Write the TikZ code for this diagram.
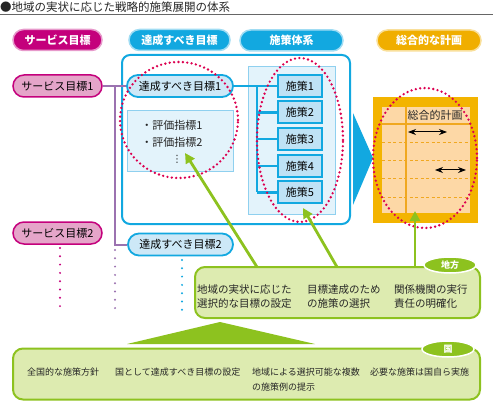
\documentclass[tikz,border=0pt]{standalone}
\usepackage{fontspec}
\setmainfont{Noto Sans CJK JP}
\newfontfamily\symfont{DejaVu Sans}
\usepackage{xcolor}
\usetikzlibrary{shapes,arrows.meta,positioning,fit}

\definecolor{srvmag}{HTML}{C4007C}
\definecolor{srvpink}{HTML}{E5A5C9}
\definecolor{sky}{HTML}{12A8E0}
\definecolor{goalfill}{HTML}{CDE8F7}
\definecolor{kpifill}{HTML}{E3F3FB}
\definecolor{kpiline}{HTML}{8FD0EF}
\definecolor{polfill}{HTML}{BFE2F5}
\definecolor{planhdr}{HTML}{F0AE00}
\definecolor{plangold}{HTML}{F3B400}
\definecolor{planpeach}{HTML}{FDD8A6}
\definecolor{planline}{HTML}{F0A820}
\definecolor{ringred}{HTML}{DC0050}
\definecolor{trunkpurple}{HTML}{9B72B0}
\definecolor{grass}{HTML}{8DC21F}
\definecolor{leaf}{HTML}{DDEBB0}

\begin{document}
\begin{tikzpicture}[
    x=1pt, y=-1pt,
    font=\fontsize{11}{12}\selectfont,
    hdr/.style={rounded corners=10.5pt, minimum height=21pt, inner sep=0pt, text=white,
        font=\bfseries\fontsize{11}{12}\selectfont, line width=1.5pt},
    srvbox/.style={rounded corners=11pt, minimum width=89pt, minimum height=22pt,
        inner sep=0pt, fill=srvpink, draw=srvmag, line width=1.5pt},
    goalbox/.style={rounded corners=11pt, minimum width=106pt, minimum height=22pt,
        inner sep=0pt, fill=goalfill, draw=sky, line width=1.8pt},
    polbox/.style={minimum width=44pt, minimum height=22pt, inner sep=0pt,
        fill=polfill, draw=sky, line width=2pt},
    ring/.style={ellipse, draw=ringred, line width=2.6pt, dash pattern=on 0pt off 4.4pt,
        line cap=round, inner sep=0pt},
    greenbox/.style={rounded corners=10pt, fill=leaf, draw=grass, line width=2pt, inner sep=0pt},
    tag/.style={ellipse, fill=grass, draw=white, line width=1.5pt, text=white, inner sep=0pt,
        minimum width=52pt, minimum height=16pt, font=\bfseries\fontsize{9}{10}\selectfont},
    greenarrow/.style={draw=grass, line width=2.8pt, -{Triangle[length=10pt,width=10pt]}},
    skyline/.style={draw=sky, line width=2.5pt},
    trunkline/.style={draw=trunkpurple, line width=2pt},
    trail/.style={line width=2.2pt, dash pattern=on 0pt off 8.3pt, line cap=round},
    txt/.style={inner sep=0pt, text=black!85, align=left},
    small/.style={txt, font=\fontsize{9}{15}\selectfont}
]
    \useasboundingbox (0,0) rectangle (493,401);

    % title
    \node[txt, anchor=west, font=\fontsize{11.5}{13}\selectfont] (title) at (0,7)
        {●地域の実状に応じた戦略的施策展開の体系};
    \draw[black!60, line width=0.8pt] (0,14.5) -- (493,14.5);

    % column headers
    \node[hdr, fill=srvmag, draw=srvmag!40, minimum width=89pt] (hsrv) at (57.5,40) {サービス目標};
    \node[hdr, fill=sky, draw=sky!40, minimum width=101pt] (hgoal) at (179.5,40) {達成すべき目標};
    \node[hdr, fill=sky, draw=sky!40, minimum width=103pt] (hsys) at (291.5,40.5) {施策体系};
    \node[hdr, fill=planhdr, draw=planhdr!40, minimum width=104pt] (hplan) at (429,40.5) {総合的な計画};

    % goals frame
    \draw[draw=sky, line width=2pt, fill=white, rounded corners=8pt] (122,55) rectangle (350,224);

    % service goals and goals
    \node[srvbox] (srv1) at (57.5,86) {サービス目標1};
    \node[srvbox] (srv2) at (57.5,233) {サービス目標2};
    \node[goalbox] (goal1) at (180,86) {達成すべき目標1};
    \node[goalbox, minimum width=105pt] (goal2) at (180.5,244.5) {達成すべき目標2};

    % indicators
    \node[fill=kpifill, draw=kpiline, line width=1pt, minimum width=106pt, minimum height=61pt] (kpi) at (180,141.5) {};
    \node[txt] (kpi1) at (172,125) {・評価指標1};
    \node[txt] (kpi2) at (172,142) {・評価指標2};
    \node[txt, font=\symfont\fontsize{10}{10}\selectfont] (kpidots) at (177,159) {⋮};

    % measures
    \node[fill=kpifill, draw=kpiline, line width=1pt, minimum width=87pt, minimum height=148pt] (grp) at (291.5,141) {};
    \node[polbox] (pol1) at (300,86) {施策1};
    \node[polbox] (pol2) at (300,112.5) {施策2};
    \node[polbox] (pol3) at (300,139) {施策3};
    \node[polbox] (pol4) at (300,166) {施策4};
    \node[polbox] (pol5) at (300,192.5) {施策5};
    \coordinate (bus) at (257,86);
    \draw[skyline] (goal1.east) -- (pol1.west);
    \draw[skyline] (bus) -- (bus |- pol5);
    \foreach \i in {2,...,5}
        \draw[skyline] (bus |- pol\i) -- (pol\i.west);

    % purple trunk
    \coordinate (trunk) at (115,86);
    \draw[trunkline] (srv1.east) -- (goal1.west);
    \draw[trunkline] (trunk) -- (trunk |- goal2) -- (goal2.west);

    % dotted continuations
    \draw[trail, srvmag] (60,248) -- (60,314);
    \draw[trail, trunkpurple] (115,250) -- (115,316);
    \draw[trail, sky] (182,260) -- (182,312);

    % big arrow head
    \fill[sky] (353,113) -- (373,158) -- (353,205) -- cycle;

    % overall plan
    \fill[plangold] (373,97) rectangle (478,223);
    \fill[planpeach] (382,107) rectangle (470,213);
    \draw[planline, line width=1.2pt] (406,107) -- (406,213);
    \draw[planline, line width=1.2pt] (382,124) -- (470,124);
    \foreach \y in {142,160,178,197}
        \draw[planline, line width=0.8pt, dash pattern=on 3pt off 2.5pt] (382,\y) -- (470,\y);
    \node[txt] (plantitle) at (435,115) {総合的計画};
    \coordinate (p1a) at (408,132);
    \coordinate (p1b) at (447,132);
    \coordinate (p2a) at (435,170);
    \coordinate (p2b) at (466,170);
    \draw[black, line width=1pt, {Stealth[length=8pt,width=6pt]}-{Stealth[length=8pt,width=6pt]}] (p1a) -- (p1b);
    \draw[black, line width=1pt, {Stealth[length=8pt,width=6pt]}-{Stealth[length=8pt,width=6pt]}] (p2a) -- (p2b);

    % red rings
    \node[ring, minimum width=118pt, minimum height=116pt] (ring1) at (179,120) {};
    \node[ring, minimum width=86pt, minimum height=164pt] (ring2) at (300,140) {};
    \node[ring, minimum width=104pt, minimum height=140pt] (ring3) at (425,158) {};

    % local government box
    \node[greenbox, minimum width=285pt, minimum height=51pt] (local) at (337.5,292.5) {};
    \node[tag] (localtag) at (450,265) {地方};
    \node[txt, anchor=west, font=\fontsize{10.5}{13.3}\selectfont] (loc1) at (197,296.5) {地域の実状に応じた\\選択的な目標の設定};
    \node[txt, anchor=west, font=\fontsize{10.5}{13.3}\selectfont] (loc2) at (307,296.5) {目標達成のため\\の施策の選択};
    \node[txt, anchor=west, font=\fontsize{10.5}{13.3}\selectfont] (loc3) at (394,296.5) {関係機関の実行\\責任の明確化};

    \coordinate (from1) at (257,267);
    \coordinate (from2) at (337,267);
    \coordinate (from3) at (415,267);
    \coordinate (to1) at (185,153);
    \coordinate (to2) at (303,208);
    \coordinate (to3) at (415,211);
    \draw[greenarrow] (from1) -- (to1);
    \draw[greenarrow] (from2) -- (to2);
    \draw[greenarrow] (from3) -- (to3);

    % national box
    \fill[grass] (127,344) -- (220,322) -- (315,344) -- cycle;
    \node[greenbox, minimum width=467pt, minimum height=51pt] (nation) at (246.5,374) {};
    \node[tag] (nationtag) at (448,349) {国};
    \node[small, anchor=west] (nat1) at (27,372) {全国的な施策方針};
    \node[small, anchor=west] (nat2) at (115,372) {国として達成すべき目標の設定};
    \node[small, anchor=west] (nat3) at (252,379.5) {地域による選択可能な複数\\の施策例の提示};
    \node[small, anchor=west] (nat4) at (370,372) {必要な施策は国自ら実施};
\end{tikzpicture}
\end{document}
